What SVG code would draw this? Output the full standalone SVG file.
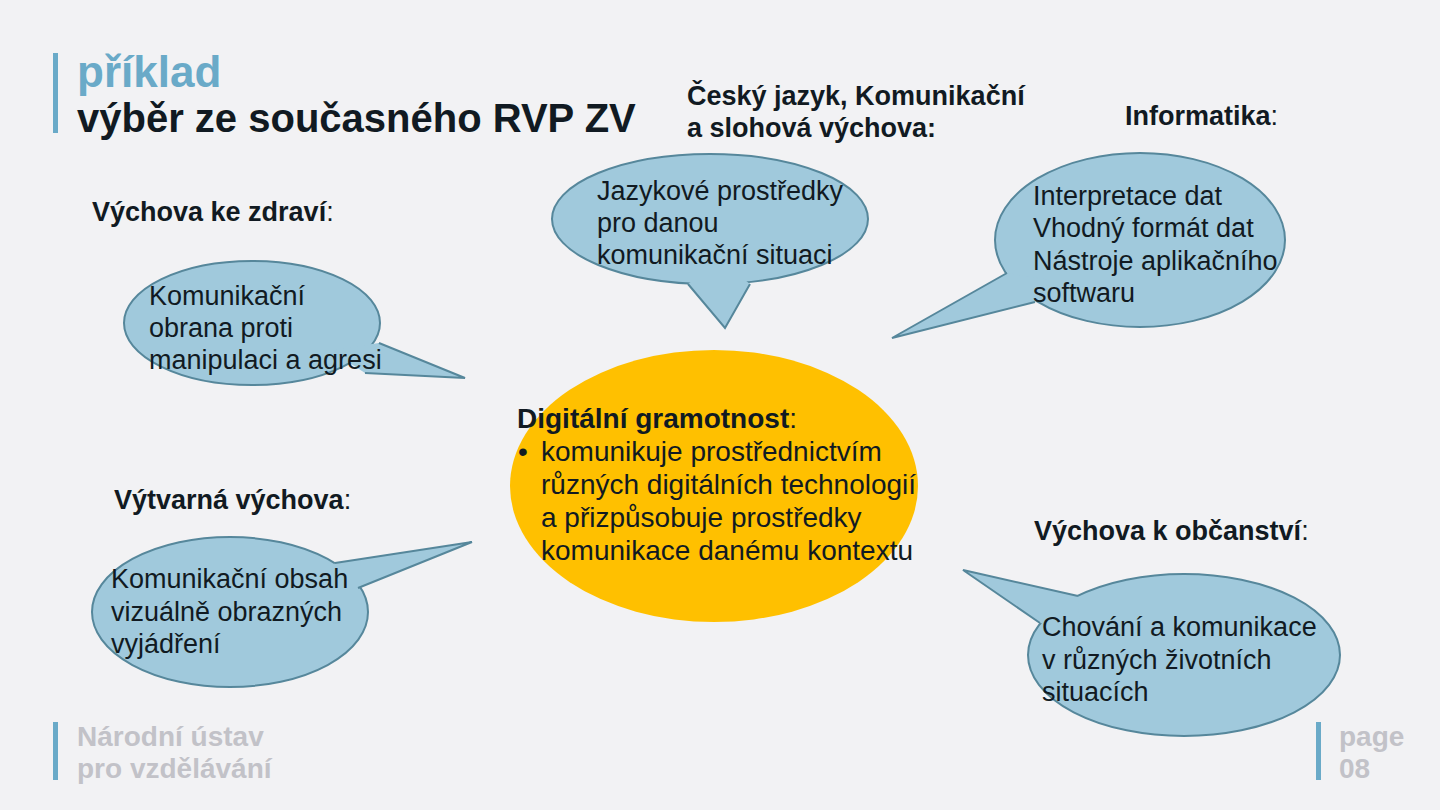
<svg xmlns="http://www.w3.org/2000/svg" width="1440" height="810" viewBox="0 0 1440 810">
<defs>
<style>
.bg{fill:#f2f2f4}
.bar{fill:#6aaac8}
.bub{fill:#a0c9dc;stroke:#56879b;stroke-width:2}
.tailf{fill:#a0c9dc;stroke:none}
.taile{fill:none;stroke:#56879b;stroke-width:2;stroke-linejoin:miter}
.t{font-family:"Liberation Sans",Arial,sans-serif;font-size:27px;fill:#111a22}
.y{font-family:"Liberation Sans",Arial,sans-serif;font-size:28px;fill:#111a22}
.h{font-family:"Liberation Sans",Arial,sans-serif;font-size:27px;font-weight:bold;fill:#111a22}
.n{font-weight:normal}
.foot{font-family:"Liberation Sans",Arial,sans-serif;font-size:28px;font-weight:bold;fill:#c2c2c8}
</style>
</defs>
<rect class="bg" x="0" y="0" width="1440" height="810"/>

<g id="title">
<rect class="bar" x="53" y="53" width="5" height="80"/>
<text x="77" y="87" font-family="Liberation Sans, Arial, sans-serif" font-size="44" font-weight="bold" fill="#6aaac8">příklad</text>
<text x="77" y="132" font-family="Liberation Sans, Arial, sans-serif" font-size="40" font-weight="bold" fill="#111a22">výběr ze současného RVP ZV</text>
</g>

<g id="heading-cesky">
<text class="h" x="687" y="105">Český jazyk, Komunikační</text>
<text class="h" x="687" y="137">a slohová výchova:</text>
</g>
<g id="heading-informatika"><text class="h" x="1125" y="125">Informatika<tspan class="n">:</tspan></text></g>
<g id="heading-zdravi"><text class="h" x="92" y="221">Výchova ke zdraví<tspan class="n">:</tspan></text></g>
<g id="heading-vytvarna"><text class="h" x="114" y="509">Výtvarná výchova<tspan class="n">:</tspan></text></g>
<g id="heading-obcanstvi"><text class="h" x="1034" y="540">Výchova k občanství<tspan class="n">:</tspan></text></g>

<g id="bubble-zdravi">
<ellipse class="bub" cx="252" cy="323" rx="128" ry="62"/>
<polygon class="tailf" points="379,343 465,378 365,373 330,350"/>
<polyline class="taile" points="379,343 465,378 365,373"/>
<text class="t" x="149" y="305">Komunikační</text>
<text class="t" x="149" y="337">obrana proti</text>
<text class="t" x="149" y="369">manipulaci a agresi</text>
</g>

<g id="bubble-cesky">
<ellipse class="bub" cx="710" cy="219" rx="158" ry="65"/>
<polygon class="tailf" points="688,284 725,328 750,284 720,260"/>
<polyline class="taile" points="688,284 725,328 750,284"/>
<text class="t" x="597" y="200">Jazykové prostředky</text>
<text class="t" x="597" y="232">pro danou</text>
<text class="t" x="597" y="264">komunikační situaci</text>
</g>

<g id="bubble-informatika">
<ellipse class="bub" cx="1140" cy="240" rx="145" ry="87"/>
<polygon class="tailf" points="1007,273 892,338 1035,302 1050,280"/>
<polyline class="taile" points="1007,273 892,338 1035,302"/>
<text class="t" x="1033" y="205">Interpretace dat</text>
<text class="t" x="1033" y="237">Vhodný formát dat</text>
<text class="t" x="1033" y="270">Nástroje aplikačního</text>
<text class="t" x="1033" y="302">softwaru</text>
</g>

<g id="bubble-vytvarna">
<ellipse class="bub" cx="230" cy="612" rx="138" ry="75"/>
<polygon class="tailf" points="335,563 472,542 358,588 320,590"/>
<polyline class="taile" points="335,563 472,542 358,588"/>
<text class="t" x="111" y="588">Komunikační obsah</text>
<text class="t" x="111" y="621">vizuálně obrazných</text>
<text class="t" x="111" y="653">vyjádření</text>
</g>

<g id="bubble-obcanstvi">
<ellipse class="bub" cx="1184" cy="655" rx="156" ry="81"/>
<polygon class="tailf" points="1078,596 963,570 1040,623 1080,630"/>
<polyline class="taile" points="1078,596 963,570 1040,623"/>
<text class="t" x="1042" y="636">Chování a komunikace</text>
<text class="t" x="1042" y="669">v různých životních</text>
<text class="t" x="1042" y="701">situacích</text>
</g>

<g id="center-digital">
<ellipse cx="714" cy="486" rx="204" ry="136" fill="#ffc000"/>
<text class="y" x="517" y="428" font-weight="bold">Digitální gramotnost<tspan class="n">:</tspan></text>
<text class="y" x="518" y="461">•</text>
<text class="y" x="541" y="461">komunikuje prostřednictvím</text>
<text class="y" x="541" y="494">různých digitálních technologií</text>
<text class="y" x="541" y="527">a přizpůsobuje prostředky</text>
<text class="y" x="541" y="560">komunikace danému kontextu</text>
</g>

<g id="footer">
<rect class="bar" x="53" y="722" width="5" height="58"/>
<text class="foot" x="77" y="746">Národní ústav</text>
<text class="foot" x="77" y="778">pro vzdělávání</text>
<rect class="bar" x="1316" y="722" width="5" height="58"/>
<text class="foot" x="1339" y="746">page</text>
<text class="foot" x="1339" y="778">08</text>
</g>
</svg>
